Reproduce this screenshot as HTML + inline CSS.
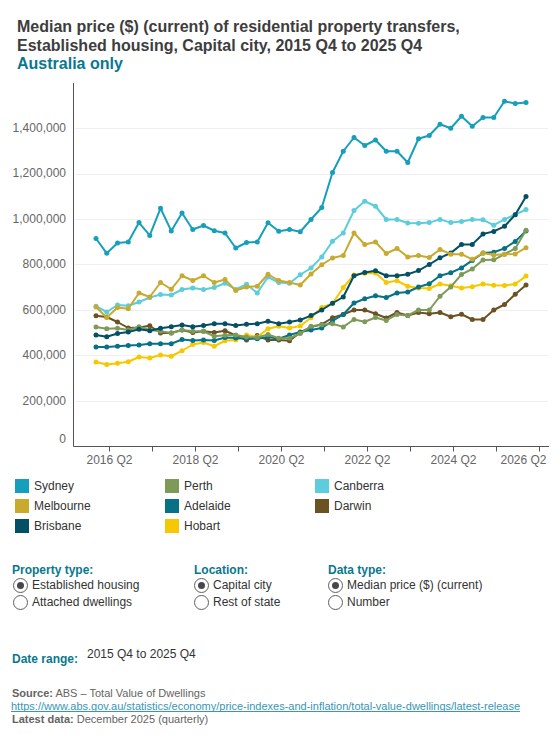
<!DOCTYPE html>
<html><head><meta charset="utf-8">
<style>
html,body{margin:0;padding:0;background:#fff;width:560px;height:750px;overflow:hidden}
body{font-family:"Liberation Sans",sans-serif;position:relative;color:#333}
.a{position:absolute;white-space:nowrap}
.title{left:17px;top:15px;font-size:16px;font-weight:700;line-height:18.5px;color:#3d3d3d}
.title.sub{color:#08788f}
svg{position:absolute;left:0;top:0}
.yl{font-size:12px;color:#666;text-align:right;width:60px;left:6px}
.xl{font-size:12px;color:#666;width:80px;text-align:center}
.lg{font-size:12px;color:#333}
.sw{position:absolute;width:14px;height:14px}
.lab{font-size:12px;font-weight:700;color:#08788f}
.opt{font-size:12px;color:#333}
.radio{position:absolute;width:13px;height:13px;border:1px solid #5f5f5f;border-radius:50%;background:#fff;box-sizing:content-box}
.radio.on::after{content:"";position:absolute;left:2.75px;top:2.75px;width:7.5px;height:7.5px;border-radius:50%;background:#45484c}
.src{font-size:11px;color:#646464}
.src b{color:#646464}
.link{font-size:11px;color:#3896b6;text-decoration:underline;text-decoration-skip-ink:none}
</style></head><body>
<div class="a title" style="top:18px">Median price ($) (current) of residential property transfers,</div>
<div class="a title" style="top:37px">Established housing, Capital city, 2015 Q4 to 2025 Q4</div>
<div class="a title sub" style="top:55px">Australia only</div>

<svg width="560" height="470" viewBox="0 0 560 470">
<g stroke="#efefef" stroke-width="1">
<line x1="75" x2="548" y1="128.5" y2="128.5"/>
<line x1="75" x2="548" y1="174.5" y2="174.5"/>
<line x1="75" x2="548" y1="219.5" y2="219.5"/>
<line x1="75" x2="548" y1="264.5" y2="264.5"/>
<line x1="75" x2="548" y1="310.5" y2="310.5"/>
<line x1="75" x2="548" y1="355.5" y2="355.5"/>
<line x1="75" x2="548" y1="401.5" y2="401.5"/>
</g>
<g stroke="#555" stroke-width="1" fill="none">
<path d="M73.5 83V446.5H549"/>
<path d="M109.5 446.5v5M152.5 446.5v5M195.5 446.5v5M238.5 446.5v5M281.5 446.5v5M324.5 446.5v5M367.5 446.5v5M410.5 446.5v5M453.5 446.5v5M496.5 446.5v5M539.5 446.5v5"/>
</g>
<g fill="#6b5223" stroke="#6b5223"><polyline fill="none" stroke-width="2" stroke-linejoin="round" points="96.00,315.75 106.75,317.00 117.50,322.00 128.25,328.00 139.00,327.50 149.75,325.75 160.50,333.00 171.25,333.00 182.00,330.00 192.75,332.50 203.50,331.25 214.25,332.50 225.00,330.75 235.75,335.50 246.50,340.00 257.25,335.50 268.00,340.00 278.75,340.00 289.50,340.75 300.25,332.50 311.00,327.00 321.75,324.40 332.50,317.75 343.25,314.50 354.00,310.00 364.75,310.00 375.50,313.75 386.25,318.00 397.00,312.50 407.75,315.50 418.50,312.50 429.25,313.75 440.00,312.50 450.75,316.75 461.50,314.25 472.25,319.50 483.00,319.50 493.75,310.00 504.50,304.50 515.25,294.25 526.00,285.00"/>
<circle cx="96.00" cy="315.75" r="2.5" stroke="none"/><circle cx="106.75" cy="317.00" r="2.5" stroke="none"/><circle cx="117.50" cy="322.00" r="2.5" stroke="none"/><circle cx="128.25" cy="328.00" r="2.5" stroke="none"/><circle cx="139.00" cy="327.50" r="2.5" stroke="none"/><circle cx="149.75" cy="325.75" r="2.5" stroke="none"/><circle cx="160.50" cy="333.00" r="2.5" stroke="none"/><circle cx="171.25" cy="333.00" r="2.5" stroke="none"/><circle cx="182.00" cy="330.00" r="2.5" stroke="none"/><circle cx="192.75" cy="332.50" r="2.5" stroke="none"/><circle cx="203.50" cy="331.25" r="2.5" stroke="none"/><circle cx="214.25" cy="332.50" r="2.5" stroke="none"/><circle cx="225.00" cy="330.75" r="2.5" stroke="none"/><circle cx="235.75" cy="335.50" r="2.5" stroke="none"/><circle cx="246.50" cy="340.00" r="2.5" stroke="none"/><circle cx="257.25" cy="335.50" r="2.5" stroke="none"/><circle cx="268.00" cy="340.00" r="2.5" stroke="none"/><circle cx="278.75" cy="340.00" r="2.5" stroke="none"/><circle cx="289.50" cy="340.75" r="2.5" stroke="none"/><circle cx="300.25" cy="332.50" r="2.5" stroke="none"/><circle cx="311.00" cy="327.00" r="2.5" stroke="none"/><circle cx="321.75" cy="324.40" r="2.5" stroke="none"/><circle cx="332.50" cy="317.75" r="2.5" stroke="none"/><circle cx="343.25" cy="314.50" r="2.5" stroke="none"/><circle cx="354.00" cy="310.00" r="2.5" stroke="none"/><circle cx="364.75" cy="310.00" r="2.5" stroke="none"/><circle cx="375.50" cy="313.75" r="2.5" stroke="none"/><circle cx="386.25" cy="318.00" r="2.5" stroke="none"/><circle cx="397.00" cy="312.50" r="2.5" stroke="none"/><circle cx="407.75" cy="315.50" r="2.5" stroke="none"/><circle cx="418.50" cy="312.50" r="2.5" stroke="none"/><circle cx="429.25" cy="313.75" r="2.5" stroke="none"/><circle cx="440.00" cy="312.50" r="2.5" stroke="none"/><circle cx="450.75" cy="316.75" r="2.5" stroke="none"/><circle cx="461.50" cy="314.25" r="2.5" stroke="none"/><circle cx="472.25" cy="319.50" r="2.5" stroke="none"/><circle cx="483.00" cy="319.50" r="2.5" stroke="none"/><circle cx="493.75" cy="310.00" r="2.5" stroke="none"/><circle cx="504.50" cy="304.50" r="2.5" stroke="none"/><circle cx="515.25" cy="294.25" r="2.5" stroke="none"/><circle cx="526.00" cy="285.00" r="2.5" stroke="none"/>
</g>
<g fill="#5dcddc" stroke="#5dcddc"><polyline fill="none" stroke-width="2" stroke-linejoin="round" points="96.00,306.25 106.75,312.00 117.50,305.00 128.25,305.75 139.00,302.00 149.75,297.50 160.50,294.50 171.25,295.00 182.00,289.50 192.75,288.00 203.50,289.50 214.25,287.50 225.00,283.25 235.75,289.50 246.50,284.25 257.25,293.00 268.00,277.00 278.75,282.50 289.50,283.25 300.25,274.75 311.00,268.00 321.75,256.90 332.50,241.25 343.25,233.00 354.00,210.50 364.75,201.25 375.50,206.25 386.25,219.50 397.00,219.50 407.75,223.00 418.50,223.25 429.25,222.60 440.00,219.40 450.75,222.60 461.50,221.40 472.25,219.40 483.00,219.80 493.75,225.20 504.50,219.40 515.25,214.50 526.00,209.60"/>
<circle cx="96.00" cy="306.25" r="2.5" stroke="none"/><circle cx="106.75" cy="312.00" r="2.5" stroke="none"/><circle cx="117.50" cy="305.00" r="2.5" stroke="none"/><circle cx="128.25" cy="305.75" r="2.5" stroke="none"/><circle cx="139.00" cy="302.00" r="2.5" stroke="none"/><circle cx="149.75" cy="297.50" r="2.5" stroke="none"/><circle cx="160.50" cy="294.50" r="2.5" stroke="none"/><circle cx="171.25" cy="295.00" r="2.5" stroke="none"/><circle cx="182.00" cy="289.50" r="2.5" stroke="none"/><circle cx="192.75" cy="288.00" r="2.5" stroke="none"/><circle cx="203.50" cy="289.50" r="2.5" stroke="none"/><circle cx="214.25" cy="287.50" r="2.5" stroke="none"/><circle cx="225.00" cy="283.25" r="2.5" stroke="none"/><circle cx="235.75" cy="289.50" r="2.5" stroke="none"/><circle cx="246.50" cy="284.25" r="2.5" stroke="none"/><circle cx="257.25" cy="293.00" r="2.5" stroke="none"/><circle cx="268.00" cy="277.00" r="2.5" stroke="none"/><circle cx="278.75" cy="282.50" r="2.5" stroke="none"/><circle cx="289.50" cy="283.25" r="2.5" stroke="none"/><circle cx="300.25" cy="274.75" r="2.5" stroke="none"/><circle cx="311.00" cy="268.00" r="2.5" stroke="none"/><circle cx="321.75" cy="256.90" r="2.5" stroke="none"/><circle cx="332.50" cy="241.25" r="2.5" stroke="none"/><circle cx="343.25" cy="233.00" r="2.5" stroke="none"/><circle cx="354.00" cy="210.50" r="2.5" stroke="none"/><circle cx="364.75" cy="201.25" r="2.5" stroke="none"/><circle cx="375.50" cy="206.25" r="2.5" stroke="none"/><circle cx="386.25" cy="219.50" r="2.5" stroke="none"/><circle cx="397.00" cy="219.50" r="2.5" stroke="none"/><circle cx="407.75" cy="223.00" r="2.5" stroke="none"/><circle cx="418.50" cy="223.25" r="2.5" stroke="none"/><circle cx="429.25" cy="222.60" r="2.5" stroke="none"/><circle cx="440.00" cy="219.40" r="2.5" stroke="none"/><circle cx="450.75" cy="222.60" r="2.5" stroke="none"/><circle cx="461.50" cy="221.40" r="2.5" stroke="none"/><circle cx="472.25" cy="219.40" r="2.5" stroke="none"/><circle cx="483.00" cy="219.80" r="2.5" stroke="none"/><circle cx="493.75" cy="225.20" r="2.5" stroke="none"/><circle cx="504.50" cy="219.40" r="2.5" stroke="none"/><circle cx="515.25" cy="214.50" r="2.5" stroke="none"/><circle cx="526.00" cy="209.60" r="2.5" stroke="none"/>
</g>
<g fill="#f5c800" stroke="#f5c800"><polyline fill="none" stroke-width="2" stroke-linejoin="round" points="96.00,362.00 106.75,364.50 117.50,363.25 128.25,361.75 139.00,357.00 149.75,358.00 160.50,355.00 171.25,356.25 182.00,350.75 192.75,344.50 203.50,342.50 214.25,346.25 225.00,340.75 235.75,340.00 246.50,335.00 257.25,337.00 268.00,328.75 278.75,326.25 289.50,328.00 300.25,326.00 311.00,317.75 321.75,307.50 332.50,303.50 343.25,287.50 354.00,275.00 364.75,273.25 375.50,273.00 386.25,282.50 397.00,280.75 407.75,286.25 418.50,288.00 429.25,288.50 440.00,284.00 450.75,285.75 461.50,288.00 472.25,286.70 483.00,284.00 493.75,285.20 504.50,285.60 515.25,284.00 526.00,276.10"/>
<circle cx="96.00" cy="362.00" r="2.5" stroke="none"/><circle cx="106.75" cy="364.50" r="2.5" stroke="none"/><circle cx="117.50" cy="363.25" r="2.5" stroke="none"/><circle cx="128.25" cy="361.75" r="2.5" stroke="none"/><circle cx="139.00" cy="357.00" r="2.5" stroke="none"/><circle cx="149.75" cy="358.00" r="2.5" stroke="none"/><circle cx="160.50" cy="355.00" r="2.5" stroke="none"/><circle cx="171.25" cy="356.25" r="2.5" stroke="none"/><circle cx="182.00" cy="350.75" r="2.5" stroke="none"/><circle cx="192.75" cy="344.50" r="2.5" stroke="none"/><circle cx="203.50" cy="342.50" r="2.5" stroke="none"/><circle cx="214.25" cy="346.25" r="2.5" stroke="none"/><circle cx="225.00" cy="340.75" r="2.5" stroke="none"/><circle cx="235.75" cy="340.00" r="2.5" stroke="none"/><circle cx="246.50" cy="335.00" r="2.5" stroke="none"/><circle cx="257.25" cy="337.00" r="2.5" stroke="none"/><circle cx="268.00" cy="328.75" r="2.5" stroke="none"/><circle cx="278.75" cy="326.25" r="2.5" stroke="none"/><circle cx="289.50" cy="328.00" r="2.5" stroke="none"/><circle cx="300.25" cy="326.00" r="2.5" stroke="none"/><circle cx="311.00" cy="317.75" r="2.5" stroke="none"/><circle cx="321.75" cy="307.50" r="2.5" stroke="none"/><circle cx="332.50" cy="303.50" r="2.5" stroke="none"/><circle cx="343.25" cy="287.50" r="2.5" stroke="none"/><circle cx="354.00" cy="275.00" r="2.5" stroke="none"/><circle cx="364.75" cy="273.25" r="2.5" stroke="none"/><circle cx="375.50" cy="273.00" r="2.5" stroke="none"/><circle cx="386.25" cy="282.50" r="2.5" stroke="none"/><circle cx="397.00" cy="280.75" r="2.5" stroke="none"/><circle cx="407.75" cy="286.25" r="2.5" stroke="none"/><circle cx="418.50" cy="288.00" r="2.5" stroke="none"/><circle cx="429.25" cy="288.50" r="2.5" stroke="none"/><circle cx="440.00" cy="284.00" r="2.5" stroke="none"/><circle cx="450.75" cy="285.75" r="2.5" stroke="none"/><circle cx="461.50" cy="288.00" r="2.5" stroke="none"/><circle cx="472.25" cy="286.70" r="2.5" stroke="none"/><circle cx="483.00" cy="284.00" r="2.5" stroke="none"/><circle cx="493.75" cy="285.20" r="2.5" stroke="none"/><circle cx="504.50" cy="285.60" r="2.5" stroke="none"/><circle cx="515.25" cy="284.00" r="2.5" stroke="none"/><circle cx="526.00" cy="276.10" r="2.5" stroke="none"/>
</g>
<g fill="#077186" stroke="#077186"><polyline fill="none" stroke-width="2" stroke-linejoin="round" points="96.00,347.00 106.75,347.00 117.50,346.25 128.25,345.50 139.00,345.00 149.75,343.75 160.50,343.75 171.25,343.75 182.00,339.50 192.75,340.50 203.50,340.00 214.25,340.50 225.00,337.50 235.75,338.00 246.50,338.75 257.25,338.75 268.00,337.00 278.75,338.75 289.50,335.00 300.25,332.00 311.00,330.00 321.75,328.00 332.50,321.00 343.25,314.50 354.00,303.00 364.75,298.75 375.50,295.75 386.25,297.50 397.00,293.00 407.75,292.00 418.50,287.00 429.25,283.75 440.00,275.75 450.75,272.75 461.50,267.90 472.25,260.40 483.00,253.00 493.75,252.30 504.50,248.40 515.25,241.40 526.00,231.00"/>
<circle cx="96.00" cy="347.00" r="2.5" stroke="none"/><circle cx="106.75" cy="347.00" r="2.5" stroke="none"/><circle cx="117.50" cy="346.25" r="2.5" stroke="none"/><circle cx="128.25" cy="345.50" r="2.5" stroke="none"/><circle cx="139.00" cy="345.00" r="2.5" stroke="none"/><circle cx="149.75" cy="343.75" r="2.5" stroke="none"/><circle cx="160.50" cy="343.75" r="2.5" stroke="none"/><circle cx="171.25" cy="343.75" r="2.5" stroke="none"/><circle cx="182.00" cy="339.50" r="2.5" stroke="none"/><circle cx="192.75" cy="340.50" r="2.5" stroke="none"/><circle cx="203.50" cy="340.00" r="2.5" stroke="none"/><circle cx="214.25" cy="340.50" r="2.5" stroke="none"/><circle cx="225.00" cy="337.50" r="2.5" stroke="none"/><circle cx="235.75" cy="338.00" r="2.5" stroke="none"/><circle cx="246.50" cy="338.75" r="2.5" stroke="none"/><circle cx="257.25" cy="338.75" r="2.5" stroke="none"/><circle cx="268.00" cy="337.00" r="2.5" stroke="none"/><circle cx="278.75" cy="338.75" r="2.5" stroke="none"/><circle cx="289.50" cy="335.00" r="2.5" stroke="none"/><circle cx="300.25" cy="332.00" r="2.5" stroke="none"/><circle cx="311.00" cy="330.00" r="2.5" stroke="none"/><circle cx="321.75" cy="328.00" r="2.5" stroke="none"/><circle cx="332.50" cy="321.00" r="2.5" stroke="none"/><circle cx="343.25" cy="314.50" r="2.5" stroke="none"/><circle cx="354.00" cy="303.00" r="2.5" stroke="none"/><circle cx="364.75" cy="298.75" r="2.5" stroke="none"/><circle cx="375.50" cy="295.75" r="2.5" stroke="none"/><circle cx="386.25" cy="297.50" r="2.5" stroke="none"/><circle cx="397.00" cy="293.00" r="2.5" stroke="none"/><circle cx="407.75" cy="292.00" r="2.5" stroke="none"/><circle cx="418.50" cy="287.00" r="2.5" stroke="none"/><circle cx="429.25" cy="283.75" r="2.5" stroke="none"/><circle cx="440.00" cy="275.75" r="2.5" stroke="none"/><circle cx="450.75" cy="272.75" r="2.5" stroke="none"/><circle cx="461.50" cy="267.90" r="2.5" stroke="none"/><circle cx="472.25" cy="260.40" r="2.5" stroke="none"/><circle cx="483.00" cy="253.00" r="2.5" stroke="none"/><circle cx="493.75" cy="252.30" r="2.5" stroke="none"/><circle cx="504.50" cy="248.40" r="2.5" stroke="none"/><circle cx="515.25" cy="241.40" r="2.5" stroke="none"/><circle cx="526.00" cy="231.00" r="2.5" stroke="none"/>
</g>
<g fill="#7e9a58" stroke="#7e9a58"><polyline fill="none" stroke-width="2" stroke-linejoin="round" points="96.00,327.00 106.75,328.75 117.50,328.25 128.25,330.00 139.00,326.75 149.75,330.00 160.50,331.25 171.25,333.00 182.00,330.00 192.75,331.25 203.50,331.25 214.25,336.25 225.00,335.25 235.75,335.00 246.50,337.00 257.25,337.50 268.00,334.50 278.75,338.25 289.50,338.25 300.25,333.50 311.00,326.25 321.75,324.75 332.50,323.75 343.25,326.90 354.00,319.50 364.75,321.75 375.50,317.50 386.25,320.50 397.00,314.50 407.75,315.50 418.50,310.00 429.25,310.00 440.00,296.25 450.75,287.00 461.50,274.40 472.25,269.00 483.00,260.00 493.75,259.80 504.50,254.20 515.25,248.40 526.00,230.30"/>
<circle cx="96.00" cy="327.00" r="2.5" stroke="none"/><circle cx="106.75" cy="328.75" r="2.5" stroke="none"/><circle cx="117.50" cy="328.25" r="2.5" stroke="none"/><circle cx="128.25" cy="330.00" r="2.5" stroke="none"/><circle cx="139.00" cy="326.75" r="2.5" stroke="none"/><circle cx="149.75" cy="330.00" r="2.5" stroke="none"/><circle cx="160.50" cy="331.25" r="2.5" stroke="none"/><circle cx="171.25" cy="333.00" r="2.5" stroke="none"/><circle cx="182.00" cy="330.00" r="2.5" stroke="none"/><circle cx="192.75" cy="331.25" r="2.5" stroke="none"/><circle cx="203.50" cy="331.25" r="2.5" stroke="none"/><circle cx="214.25" cy="336.25" r="2.5" stroke="none"/><circle cx="225.00" cy="335.25" r="2.5" stroke="none"/><circle cx="235.75" cy="335.00" r="2.5" stroke="none"/><circle cx="246.50" cy="337.00" r="2.5" stroke="none"/><circle cx="257.25" cy="337.50" r="2.5" stroke="none"/><circle cx="268.00" cy="334.50" r="2.5" stroke="none"/><circle cx="278.75" cy="338.25" r="2.5" stroke="none"/><circle cx="289.50" cy="338.25" r="2.5" stroke="none"/><circle cx="300.25" cy="333.50" r="2.5" stroke="none"/><circle cx="311.00" cy="326.25" r="2.5" stroke="none"/><circle cx="321.75" cy="324.75" r="2.5" stroke="none"/><circle cx="332.50" cy="323.75" r="2.5" stroke="none"/><circle cx="343.25" cy="326.90" r="2.5" stroke="none"/><circle cx="354.00" cy="319.50" r="2.5" stroke="none"/><circle cx="364.75" cy="321.75" r="2.5" stroke="none"/><circle cx="375.50" cy="317.50" r="2.5" stroke="none"/><circle cx="386.25" cy="320.50" r="2.5" stroke="none"/><circle cx="397.00" cy="314.50" r="2.5" stroke="none"/><circle cx="407.75" cy="315.50" r="2.5" stroke="none"/><circle cx="418.50" cy="310.00" r="2.5" stroke="none"/><circle cx="429.25" cy="310.00" r="2.5" stroke="none"/><circle cx="440.00" cy="296.25" r="2.5" stroke="none"/><circle cx="450.75" cy="287.00" r="2.5" stroke="none"/><circle cx="461.50" cy="274.40" r="2.5" stroke="none"/><circle cx="472.25" cy="269.00" r="2.5" stroke="none"/><circle cx="483.00" cy="260.00" r="2.5" stroke="none"/><circle cx="493.75" cy="259.80" r="2.5" stroke="none"/><circle cx="504.50" cy="254.20" r="2.5" stroke="none"/><circle cx="515.25" cy="248.40" r="2.5" stroke="none"/><circle cx="526.00" cy="230.30" r="2.5" stroke="none"/>
</g>
<g fill="#034f66" stroke="#034f66"><polyline fill="none" stroke-width="2" stroke-linejoin="round" points="96.00,335.00 106.75,336.75 117.50,333.50 128.25,332.00 139.00,329.25 149.75,330.75 160.50,328.25 171.25,326.75 182.00,325.00 192.75,326.75 203.50,325.50 214.25,323.75 225.00,323.75 235.75,325.50 246.50,324.25 257.25,323.75 268.00,321.25 278.75,323.75 289.50,322.00 300.25,320.00 311.00,315.60 321.75,310.00 332.50,303.25 343.25,297.00 354.00,275.75 364.75,272.50 375.50,270.75 386.25,275.75 397.00,275.75 407.75,274.25 418.50,270.60 429.25,264.50 440.00,257.80 450.75,253.00 461.50,244.40 472.25,244.40 483.00,234.00 493.75,231.40 504.50,226.30 515.25,214.80 526.00,196.60"/>
<circle cx="96.00" cy="335.00" r="2.5" stroke="none"/><circle cx="106.75" cy="336.75" r="2.5" stroke="none"/><circle cx="117.50" cy="333.50" r="2.5" stroke="none"/><circle cx="128.25" cy="332.00" r="2.5" stroke="none"/><circle cx="139.00" cy="329.25" r="2.5" stroke="none"/><circle cx="149.75" cy="330.75" r="2.5" stroke="none"/><circle cx="160.50" cy="328.25" r="2.5" stroke="none"/><circle cx="171.25" cy="326.75" r="2.5" stroke="none"/><circle cx="182.00" cy="325.00" r="2.5" stroke="none"/><circle cx="192.75" cy="326.75" r="2.5" stroke="none"/><circle cx="203.50" cy="325.50" r="2.5" stroke="none"/><circle cx="214.25" cy="323.75" r="2.5" stroke="none"/><circle cx="225.00" cy="323.75" r="2.5" stroke="none"/><circle cx="235.75" cy="325.50" r="2.5" stroke="none"/><circle cx="246.50" cy="324.25" r="2.5" stroke="none"/><circle cx="257.25" cy="323.75" r="2.5" stroke="none"/><circle cx="268.00" cy="321.25" r="2.5" stroke="none"/><circle cx="278.75" cy="323.75" r="2.5" stroke="none"/><circle cx="289.50" cy="322.00" r="2.5" stroke="none"/><circle cx="300.25" cy="320.00" r="2.5" stroke="none"/><circle cx="311.00" cy="315.60" r="2.5" stroke="none"/><circle cx="321.75" cy="310.00" r="2.5" stroke="none"/><circle cx="332.50" cy="303.25" r="2.5" stroke="none"/><circle cx="343.25" cy="297.00" r="2.5" stroke="none"/><circle cx="354.00" cy="275.75" r="2.5" stroke="none"/><circle cx="364.75" cy="272.50" r="2.5" stroke="none"/><circle cx="375.50" cy="270.75" r="2.5" stroke="none"/><circle cx="386.25" cy="275.75" r="2.5" stroke="none"/><circle cx="397.00" cy="275.75" r="2.5" stroke="none"/><circle cx="407.75" cy="274.25" r="2.5" stroke="none"/><circle cx="418.50" cy="270.60" r="2.5" stroke="none"/><circle cx="429.25" cy="264.50" r="2.5" stroke="none"/><circle cx="440.00" cy="257.80" r="2.5" stroke="none"/><circle cx="450.75" cy="253.00" r="2.5" stroke="none"/><circle cx="461.50" cy="244.40" r="2.5" stroke="none"/><circle cx="472.25" cy="244.40" r="2.5" stroke="none"/><circle cx="483.00" cy="234.00" r="2.5" stroke="none"/><circle cx="493.75" cy="231.40" r="2.5" stroke="none"/><circle cx="504.50" cy="226.30" r="2.5" stroke="none"/><circle cx="515.25" cy="214.80" r="2.5" stroke="none"/><circle cx="526.00" cy="196.60" r="2.5" stroke="none"/>
</g>
<g fill="#c8aa2e" stroke="#c8aa2e"><polyline fill="none" stroke-width="2" stroke-linejoin="round" points="96.00,307.00 106.75,317.50 117.50,307.50 128.25,308.75 139.00,293.00 149.75,297.00 160.50,282.50 171.25,289.25 182.00,275.75 192.75,280.50 203.50,275.75 214.25,282.50 225.00,279.50 235.75,290.50 246.50,287.00 257.25,286.25 268.00,274.25 278.75,280.50 289.50,282.50 300.25,285.00 311.00,274.00 321.75,264.75 332.50,258.00 343.25,255.60 354.00,233.00 364.75,244.50 375.50,242.00 386.25,253.50 397.00,248.50 407.75,256.90 418.50,255.40 429.25,257.40 440.00,249.50 450.75,254.20 461.50,254.20 472.25,259.30 483.00,253.00 493.75,255.10 504.50,254.20 515.25,254.00 526.00,247.70"/>
<circle cx="96.00" cy="307.00" r="2.5" stroke="none"/><circle cx="106.75" cy="317.50" r="2.5" stroke="none"/><circle cx="117.50" cy="307.50" r="2.5" stroke="none"/><circle cx="128.25" cy="308.75" r="2.5" stroke="none"/><circle cx="139.00" cy="293.00" r="2.5" stroke="none"/><circle cx="149.75" cy="297.00" r="2.5" stroke="none"/><circle cx="160.50" cy="282.50" r="2.5" stroke="none"/><circle cx="171.25" cy="289.25" r="2.5" stroke="none"/><circle cx="182.00" cy="275.75" r="2.5" stroke="none"/><circle cx="192.75" cy="280.50" r="2.5" stroke="none"/><circle cx="203.50" cy="275.75" r="2.5" stroke="none"/><circle cx="214.25" cy="282.50" r="2.5" stroke="none"/><circle cx="225.00" cy="279.50" r="2.5" stroke="none"/><circle cx="235.75" cy="290.50" r="2.5" stroke="none"/><circle cx="246.50" cy="287.00" r="2.5" stroke="none"/><circle cx="257.25" cy="286.25" r="2.5" stroke="none"/><circle cx="268.00" cy="274.25" r="2.5" stroke="none"/><circle cx="278.75" cy="280.50" r="2.5" stroke="none"/><circle cx="289.50" cy="282.50" r="2.5" stroke="none"/><circle cx="300.25" cy="285.00" r="2.5" stroke="none"/><circle cx="311.00" cy="274.00" r="2.5" stroke="none"/><circle cx="321.75" cy="264.75" r="2.5" stroke="none"/><circle cx="332.50" cy="258.00" r="2.5" stroke="none"/><circle cx="343.25" cy="255.60" r="2.5" stroke="none"/><circle cx="354.00" cy="233.00" r="2.5" stroke="none"/><circle cx="364.75" cy="244.50" r="2.5" stroke="none"/><circle cx="375.50" cy="242.00" r="2.5" stroke="none"/><circle cx="386.25" cy="253.50" r="2.5" stroke="none"/><circle cx="397.00" cy="248.50" r="2.5" stroke="none"/><circle cx="407.75" cy="256.90" r="2.5" stroke="none"/><circle cx="418.50" cy="255.40" r="2.5" stroke="none"/><circle cx="429.25" cy="257.40" r="2.5" stroke="none"/><circle cx="440.00" cy="249.50" r="2.5" stroke="none"/><circle cx="450.75" cy="254.20" r="2.5" stroke="none"/><circle cx="461.50" cy="254.20" r="2.5" stroke="none"/><circle cx="472.25" cy="259.30" r="2.5" stroke="none"/><circle cx="483.00" cy="253.00" r="2.5" stroke="none"/><circle cx="493.75" cy="255.10" r="2.5" stroke="none"/><circle cx="504.50" cy="254.20" r="2.5" stroke="none"/><circle cx="515.25" cy="254.00" r="2.5" stroke="none"/><circle cx="526.00" cy="247.70" r="2.5" stroke="none"/>
</g>
<g fill="#169fba" stroke="#169fba"><polyline fill="none" stroke-width="2" stroke-linejoin="round" points="96.00,238.50 106.75,253.30 117.50,243.00 128.25,242.00 139.00,222.60 149.75,235.40 160.50,208.30 171.25,230.90 182.00,213.00 192.75,229.50 203.50,225.50 214.25,230.75 225.00,233.00 235.75,248.00 246.50,242.50 257.25,242.00 268.00,222.75 278.75,231.25 289.50,229.50 300.25,231.75 311.00,219.50 321.75,207.50 332.50,172.50 343.25,151.25 354.00,137.50 364.75,145.50 375.50,140.00 386.25,151.25 397.00,151.25 407.75,162.50 418.50,138.75 429.25,135.50 440.00,124.25 450.75,128.25 461.50,116.25 472.25,126.25 483.00,117.50 493.75,117.50 504.50,101.25 515.25,103.50 526.00,102.50"/>
<circle cx="96.00" cy="238.50" r="2.5" stroke="none"/><circle cx="106.75" cy="253.30" r="2.5" stroke="none"/><circle cx="117.50" cy="243.00" r="2.5" stroke="none"/><circle cx="128.25" cy="242.00" r="2.5" stroke="none"/><circle cx="139.00" cy="222.60" r="2.5" stroke="none"/><circle cx="149.75" cy="235.40" r="2.5" stroke="none"/><circle cx="160.50" cy="208.30" r="2.5" stroke="none"/><circle cx="171.25" cy="230.90" r="2.5" stroke="none"/><circle cx="182.00" cy="213.00" r="2.5" stroke="none"/><circle cx="192.75" cy="229.50" r="2.5" stroke="none"/><circle cx="203.50" cy="225.50" r="2.5" stroke="none"/><circle cx="214.25" cy="230.75" r="2.5" stroke="none"/><circle cx="225.00" cy="233.00" r="2.5" stroke="none"/><circle cx="235.75" cy="248.00" r="2.5" stroke="none"/><circle cx="246.50" cy="242.50" r="2.5" stroke="none"/><circle cx="257.25" cy="242.00" r="2.5" stroke="none"/><circle cx="268.00" cy="222.75" r="2.5" stroke="none"/><circle cx="278.75" cy="231.25" r="2.5" stroke="none"/><circle cx="289.50" cy="229.50" r="2.5" stroke="none"/><circle cx="300.25" cy="231.75" r="2.5" stroke="none"/><circle cx="311.00" cy="219.50" r="2.5" stroke="none"/><circle cx="321.75" cy="207.50" r="2.5" stroke="none"/><circle cx="332.50" cy="172.50" r="2.5" stroke="none"/><circle cx="343.25" cy="151.25" r="2.5" stroke="none"/><circle cx="354.00" cy="137.50" r="2.5" stroke="none"/><circle cx="364.75" cy="145.50" r="2.5" stroke="none"/><circle cx="375.50" cy="140.00" r="2.5" stroke="none"/><circle cx="386.25" cy="151.25" r="2.5" stroke="none"/><circle cx="397.00" cy="151.25" r="2.5" stroke="none"/><circle cx="407.75" cy="162.50" r="2.5" stroke="none"/><circle cx="418.50" cy="138.75" r="2.5" stroke="none"/><circle cx="429.25" cy="135.50" r="2.5" stroke="none"/><circle cx="440.00" cy="124.25" r="2.5" stroke="none"/><circle cx="450.75" cy="128.25" r="2.5" stroke="none"/><circle cx="461.50" cy="116.25" r="2.5" stroke="none"/><circle cx="472.25" cy="126.25" r="2.5" stroke="none"/><circle cx="483.00" cy="117.50" r="2.5" stroke="none"/><circle cx="493.75" cy="117.50" r="2.5" stroke="none"/><circle cx="504.50" cy="101.25" r="2.5" stroke="none"/><circle cx="515.25" cy="103.50" r="2.5" stroke="none"/><circle cx="526.00" cy="102.50" r="2.5" stroke="none"/>
</g>
</svg>

<div class="a yl" style="top:121px">1,400,000</div>
<div class="a yl" style="top:166px">1,200,000</div>
<div class="a yl" style="top:212px">1,000,000</div>
<div class="a yl" style="top:257px">800,000</div>
<div class="a yl" style="top:303px">600,000</div>
<div class="a yl" style="top:348px">400,000</div>
<div class="a yl" style="top:394px">200,000</div>
<div class="a yl" style="top:432px">0</div>

<div class="a xl" style="left:69.5px;top:453px">2016 Q2</div>
<div class="a xl" style="left:155.5px;top:453px">2018 Q2</div>
<div class="a xl" style="left:241.5px;top:453px">2020 Q2</div>
<div class="a xl" style="left:327.5px;top:453px">2022 Q2</div>
<div class="a xl" style="left:413.5px;top:453px">2024 Q2</div>
<div class="a xl" style="left:500.5px;top:453px;width:47px;text-align:left">2026 Q2</div>

<div class="sw" style="left:15px;top:479px;background:#169fba"></div><div class="a lg" style="left:34px;top:479px">Sydney</div>
<div class="sw" style="left:15px;top:499px;background:#c8aa2e"></div><div class="a lg" style="left:34px;top:499px">Melbourne</div>
<div class="sw" style="left:15px;top:519px;background:#034f66"></div><div class="a lg" style="left:34px;top:519px">Brisbane</div>
<div class="sw" style="left:165px;top:479px;background:#7e9a58"></div><div class="a lg" style="left:184px;top:479px">Perth</div>
<div class="sw" style="left:165px;top:499px;background:#077186"></div><div class="a lg" style="left:184px;top:499px">Adelaide</div>
<div class="sw" style="left:165px;top:519px;background:#f5c800"></div><div class="a lg" style="left:184px;top:519px">Hobart</div>
<div class="sw" style="left:315px;top:479px;background:#5dcddc"></div><div class="a lg" style="left:334px;top:479px">Canberra</div>
<div class="sw" style="left:315px;top:499px;background:#6b5223"></div><div class="a lg" style="left:334px;top:499px">Darwin</div>

<div class="a lab" style="left:12px;top:563px">Property type:</div>
<div class="radio on" style="left:13px;top:578px"></div><div class="a opt" style="left:32px;top:578px">Established housing</div>
<div class="radio" style="left:13px;top:595px"></div><div class="a opt" style="left:32px;top:595px">Attached dwellings</div>

<div class="a lab" style="left:194px;top:563px">Location:</div>
<div class="radio on" style="left:194px;top:578px"></div><div class="a opt" style="left:213px;top:578px">Capital city</div>
<div class="radio" style="left:194px;top:595px"></div><div class="a opt" style="left:213px;top:595px">Rest of state</div>

<div class="a lab" style="left:328px;top:563px">Data type:</div>
<div class="radio on" style="left:328px;top:578px"></div><div class="a opt" style="left:347px;top:578px">Median price ($) (current)</div>
<div class="radio" style="left:328px;top:595px"></div><div class="a opt" style="left:347px;top:595px">Number</div>

<div class="a lab" style="left:12px;top:652px">Date range:</div>
<div class="a opt" style="left:87px;top:647px">2015 Q4 to 2025 Q4</div>

<div class="a src" style="left:12px;top:687px"><b>Source:</b> ABS – Total Value of Dwellings</div>
<div class="a link" style="left:11px;top:700px">https://www.abs.gov.au/statistics/economy/price-indexes-and-inflation/total-value-dwellings/latest-release</div>
<div class="a src" style="left:12px;top:713px"><b>Latest data:</b> December 2025 (quarterly)</div>
</body></html>
